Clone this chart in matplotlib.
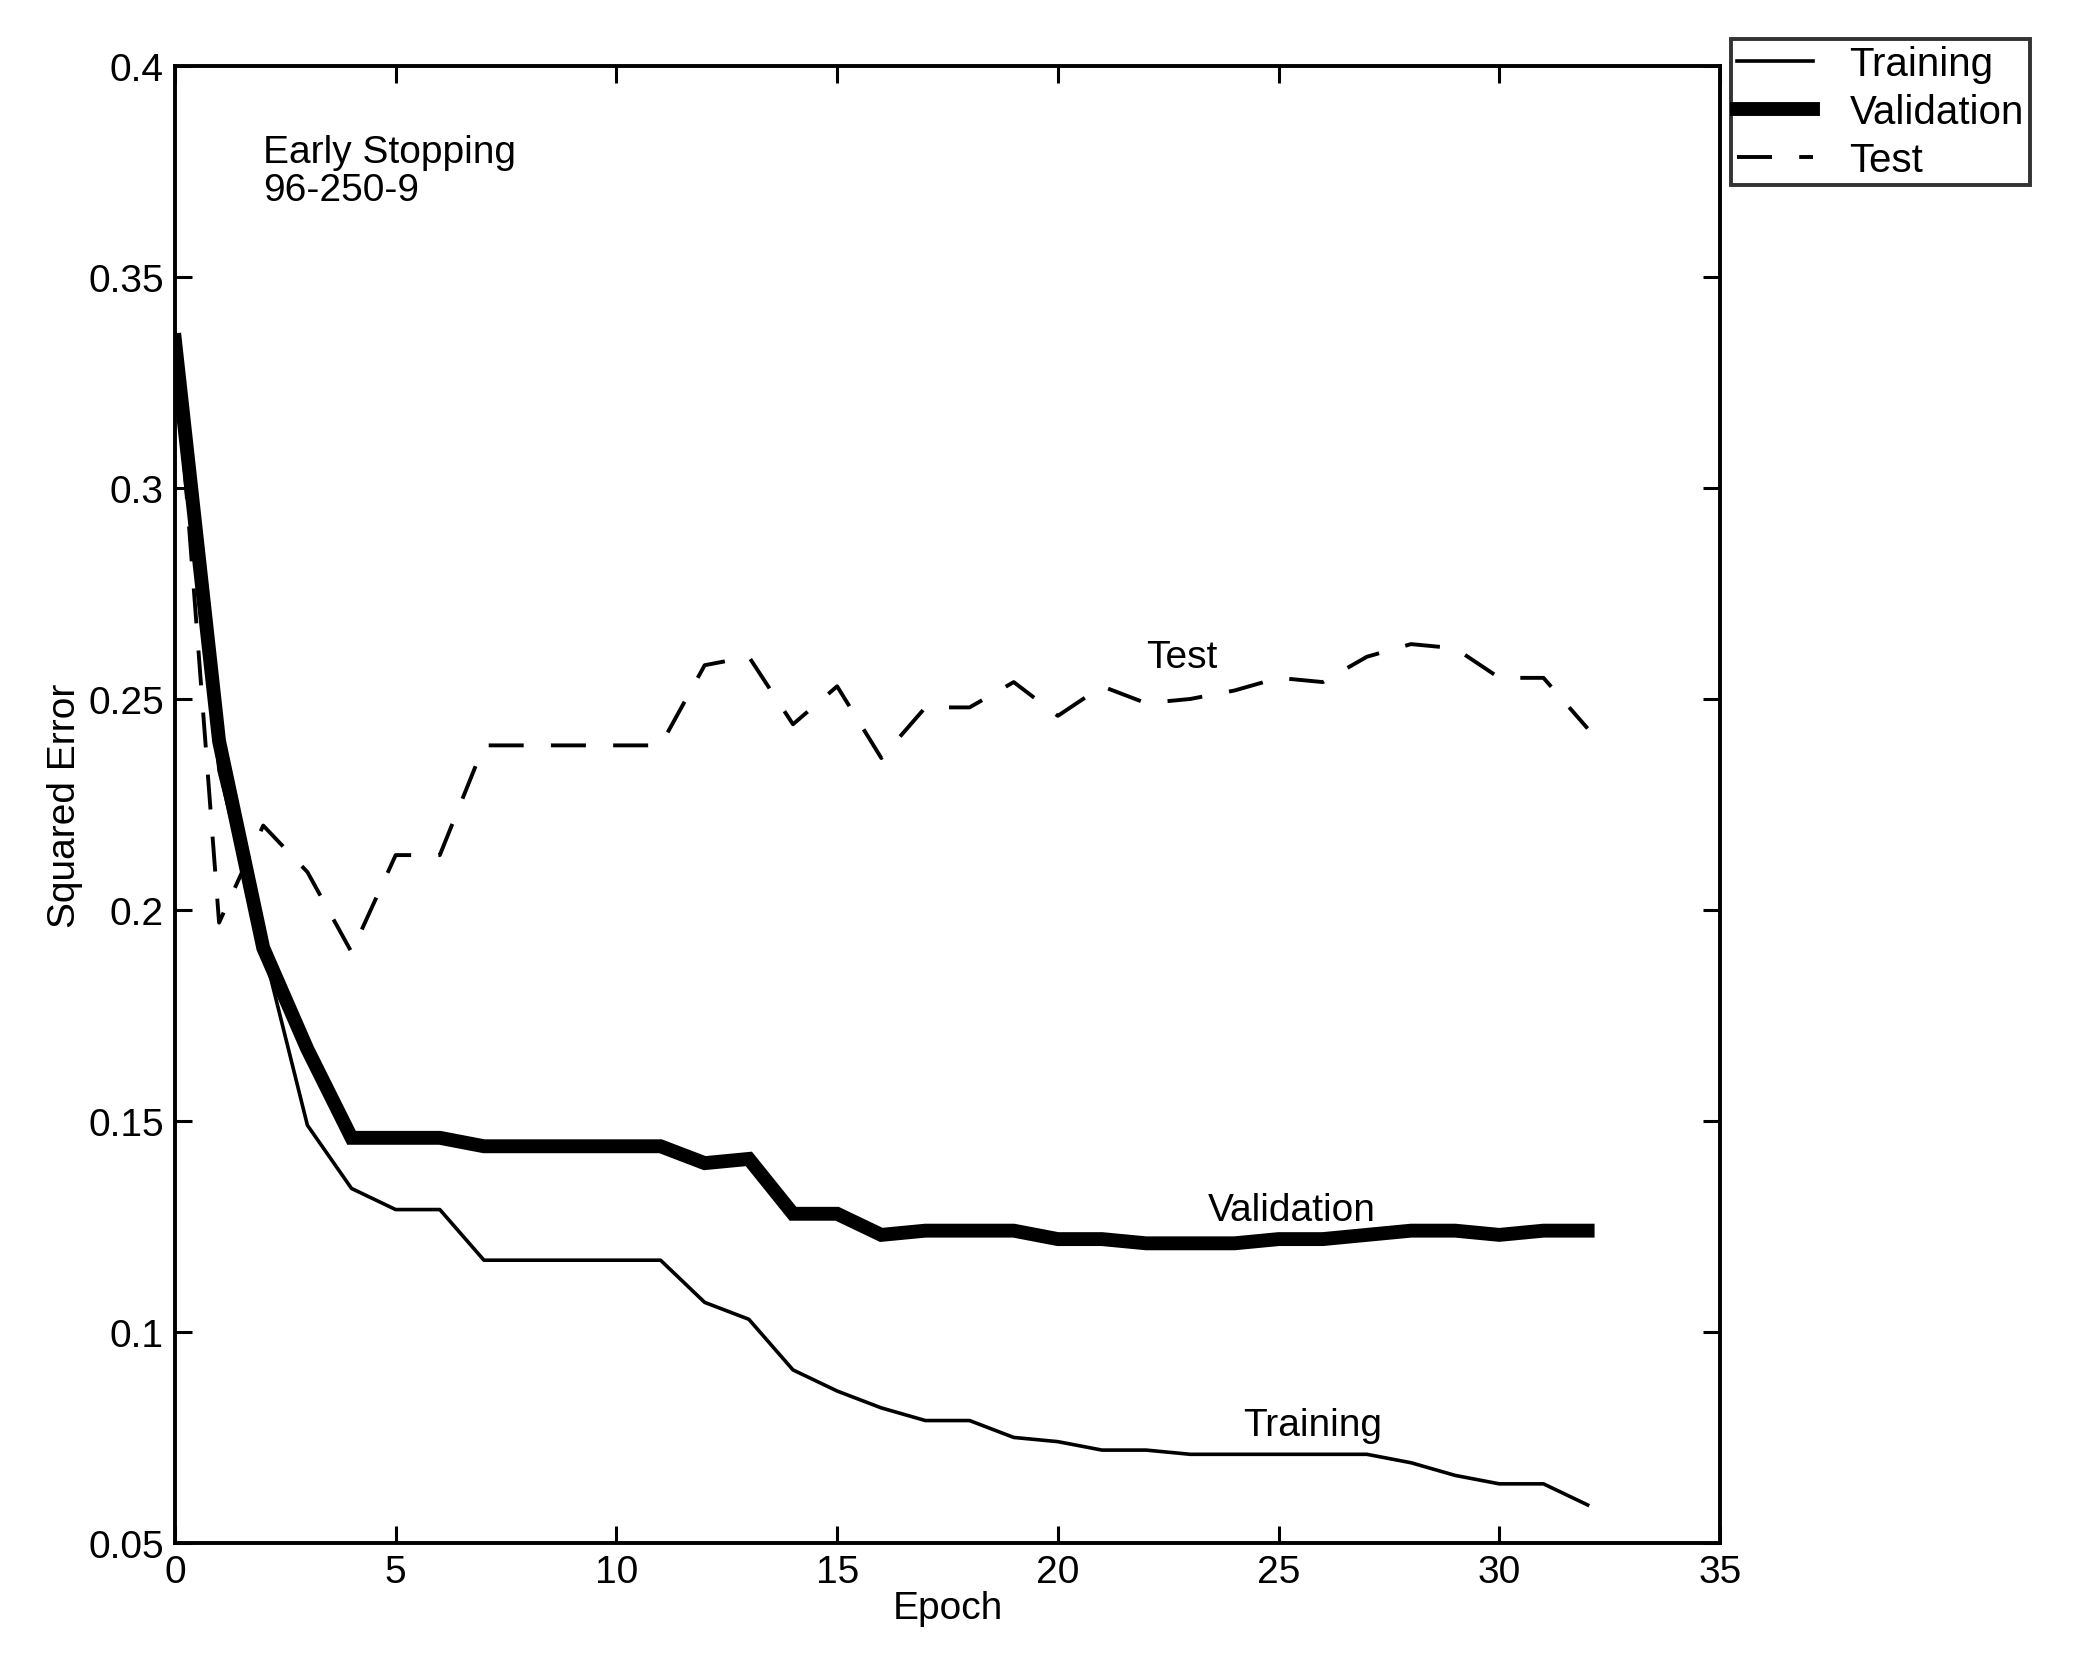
import numpy as np
import matplotlib.pyplot as plt

plt.rcParams['font.family'] = ['Liberation Sans', 'DejaVu Sans']

epochs = list(range(33))
training = [0.335, 0.233, 0.191, 0.149, 0.134, 0.129, 0.129, 0.117, 0.117, 0.117,
            0.117, 0.117, 0.107, 0.103, 0.091, 0.086, 0.082, 0.079, 0.079, 0.075,
            0.074, 0.072, 0.072, 0.071, 0.071, 0.071, 0.071, 0.071, 0.069, 0.066,
            0.064, 0.064, 0.059]
validation = [0.335, 0.240, 0.191, 0.167, 0.146, 0.146, 0.146, 0.144, 0.144, 0.144,
              0.144, 0.144, 0.140, 0.141, 0.128, 0.128, 0.123, 0.124, 0.124, 0.124,
              0.122, 0.122, 0.121, 0.121, 0.121, 0.122, 0.122, 0.123, 0.124, 0.124,
              0.123, 0.124, 0.124]
test = [0.335, 0.197, 0.220, 0.209, 0.190, 0.213, 0.213, 0.239, 0.239, 0.239,
        0.239, 0.239, 0.258, 0.260, 0.244, 0.253, 0.236, 0.248, 0.248, 0.254,
        0.246, 0.253, 0.249, 0.250, 0.252, 0.255, 0.254, 0.260, 0.263, 0.262,
        0.255, 0.255, 0.243]

fs = 28

fig = plt.figure(figsize=(20.9, 16.58), dpi=100)
ax = fig.add_axes([0.0837, 0.0688, 0.7393, 0.8908])

l1, = ax.plot(epochs, training, color='black', lw=2.6, label='Training')
l2, = ax.plot(epochs, validation, color='black', lw=10, label='Validation',
              solid_joinstyle='miter')
l3, = ax.plot(epochs, test, color='black', lw=2.8, ls=(0, (9, 7)), label='Test')

ax.set_xlim(0, 35)
ax.set_ylim(0.05, 0.4)
ax.set_xticks([0, 5, 10, 15, 20, 25, 30, 35])
ax.set_yticks([0.05, 0.1, 0.15, 0.2, 0.25, 0.3, 0.35, 0.4])
ax.set_yticklabels(['0.05', '0.1', '0.15', '0.2', '0.25', '0.3', '0.35', '0.4'])
ax.tick_params(direction='in', top=True, right=True, length=12, width=2.2,
               labelsize=fs, pad=8)
for s in ax.spines.values():
    s.set_linewidth(2.8)

ax.set_xlabel('Epoch', fontsize=fs, labelpad=0)
ax.set_ylabel('Squared Error', fontsize=fs, labelpad=4)

ax.text(2.0, 0.384, 'Early Stopping\n96-250-9', fontsize=fs, va='top',
        linespacing=1.1)
ax.text(22.0, 0.2575, 'Test', fontsize=fs)
ax.text(23.4, 0.1265, 'Validation', fontsize=fs)
ax.text(24.2, 0.0755, 'Training', fontsize=fs)

leg = fig.legend(handles=[l1, l2, l3], loc='upper left',
                 bbox_to_anchor=(0.828, 0.976), fontsize=fs + 1, frameon=True,
                 fancybox=False, edgecolor='black', borderpad=0.15,
                 handlelength=1.9, handletextpad=0.9, labelspacing=0.25,
                 borderaxespad=0)
leg.get_frame().set_linewidth(2.8)

fig.savefig('out.png', dpi=100, facecolor='white')
